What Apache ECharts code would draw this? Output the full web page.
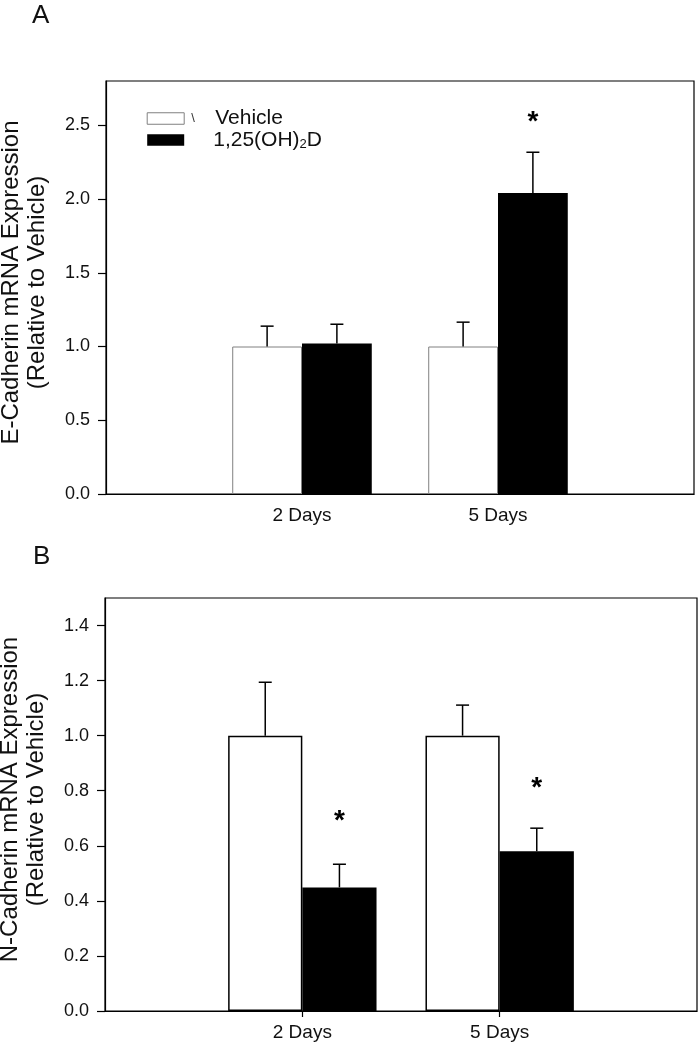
<!DOCTYPE html>
<html>
<head>
<meta charset="utf-8">
<script src="https://cdn.jsdelivr.net/npm/echarts@6/dist/echarts.min.js"></script>
<style>
html,body{margin:0;padding:0;background:#fff;}
#chart{width:699px;height:1050px;}
</style>
</head>
<body>
<div id="chart"></div>
<script>
// ---- Data ----
const categories = ['', '2 Days', '5 Days', ''];
const seriesNames = ['Vehicle', '1,25(OH)2D'];

// Panel A: E-Cadherin
const ecadVehicle      = ['-', 1.00, 1.00, '-'];
const ecadVehicleErr   = [null, 0.138, 0.165, null];
const ecadTreated      = ['-', 1.02, 2.04, '-'];
const ecadTreatedErr   = [null, 0.131, 0.277, null];
const ecadStarY        = [null, null, 2.556, null];
const ecadTicks        = { min: 0, max: 2.8, interval: 0.5 };

// Panel B: N-Cadherin
const ncadVehicle      = ['-', 1.00, 1.00, '-'];
const ncadVehicleErr   = [null, 0.194, 0.111, null];
const ncadTreated      = ['-', 0.449, 0.580, '-'];
const ncadTreatedErr   = [null, 0.084, 0.084, null];
const ncadStarY        = [null, 0.708, 0.827, null];
const ncadTicks        = { min: 0, max: 1.5, interval: 0.2 };

// ---- Helpers ----
const FONT = "'Liberation Sans', Arial, Helvetica, sans-serif";
const TXT = '#111';

function errData(vals, errs) {
  const out = [];
  vals.forEach((v, i) => { if (v !== '-' && errs[i] != null) out.push([i, v, errs[i]]); });
  return out;
}
function starData(ys) {
  const out = [];
  ys.forEach((y, i) => { if (y != null) out.push([i, y]); });
  return out;
}
function errSeries(gridIdx, data, side, ratio) {
  return {
    type: 'custom', xAxisIndex: gridIdx, yAxisIndex: gridIdx, z: 5, silent: true,
    data: data,
    renderItem: function (params, api) {
      const i = api.value(0), v = api.value(1), e = api.value(2);
      const band = api.coord([1, 0])[0] - api.coord([0, 0])[0];
      const p = api.coord([i, v]);
      const x = p[0] + side * band * ratio / 2;
      const yTop = api.coord([i, v + e])[1];
      const st = { stroke: '#000', lineWidth: 1.5 };
      return { type: 'group', children: [
        { type: 'line', shape: { x1: x, y1: p[1], x2: x, y2: yTop }, style: st },
        { type: 'line', shape: { x1: x - 6.5, y1: yTop, x2: x + 6.5, y2: yTop }, style: st }
      ]};
    }
  };
}
function starSeries(gridIdx, data, side, ratio) {
  return {
    type: 'custom', xAxisIndex: gridIdx, yAxisIndex: gridIdx, z: 6, silent: true,
    data: data,
    renderItem: function (params, api) {
      const i = api.value(0), y = api.value(1);
      const band = api.coord([1, 0])[0] - api.coord([0, 0])[0];
      const p = api.coord([i, y]);
      return { type: 'text', style: {
        text: '*', x: p[0] + side * band * ratio / 2, y: p[1] + 5,
        align: 'center', verticalAlign: 'middle',
        font: 'bold 28px ' + FONT, fill: '#000'
      }};
    }
  };
}
function yAxis(gridIdx, ticks, name) {
  return {
    type: 'value', gridIndex: gridIdx, min: ticks.min, max: ticks.max, interval: ticks.interval,
    name: name, nameLocation: 'middle', nameRotate: 90, nameGap: 56,
    nameTextStyle: { fontFamily: FONT, fontSize: 24, color: TXT, lineHeight: 25.5, align: 'center',
      padding: [0, 0, 0, 10] },
    axisLine: { show: true, lineStyle: { color: '#000', width: 1.2 } },
    axisTick: { show: true, inside: false, length: 8, lineStyle: { color: '#000', width: 1.2 } },
    axisLabel: { fontFamily: FONT, fontSize: 18, color: TXT, margin: 16, showMaxLabel: false,
      formatter: v => v.toFixed(1) },
    splitLine: { show: false }
  };
}
function xAxis(gridIdx, showTicks) {
  return {
    type: 'category', gridIndex: gridIdx, data: categories, boundaryGap: false,
    axisLine: { show: true, lineStyle: { color: '#000', width: 1.2 } },
    axisTick: { show: showTicks, length: 6, lineStyle: { color: '#000', width: 1.2 },
      interval: (idx) => idx === 1 || idx === 2 },
    axisLabel: { fontFamily: FONT, fontSize: 19, color: TXT, margin: 12, interval: 0 },
    splitLine: { show: false }
  };
}

const ratioA = 0.356, ratioB = 0.376;

const option = {
  animation: false,
  backgroundColor: '#fff',
  title: [
    { text: 'A', left: 32, top: 3, padding: 0, textStyle: { fontFamily: FONT, fontSize: 26, fontWeight: 'normal', color: TXT } },
    { text: 'B', left: 33, top: 544, padding: 0, textStyle: { fontFamily: FONT, fontSize: 26, fontWeight: 'normal', color: TXT } }
  ],
  legend: {
    orient: 'vertical', left: 146.7, top: 108, padding: 0, itemGap: 0,
    itemWidth: 37, itemHeight: 11.5, icon: 'rect',
    data: [
      { name: seriesNames[0], itemStyle: { color: '#fff', borderColor: '#808080', borderWidth: 1 } },
      { name: seriesNames[1], itemStyle: { color: '#000' } }
    ],
    formatter: function (name) {
      return name === seriesNames[0] ? '{bs|\\}{t|Vehicle}' : '{pad|}{t|1,25(OH)}{sub|2}{t|D}';
    },
    textStyle: {
      fontFamily: FONT, color: TXT,
      rich: {
        bs: { width: 24, fontSize: 13, lineHeight: 20, color: '#333', fontFamily: FONT, padding: [0, 0, 0, 2] },
        pad: { width: 24, lineHeight: 20 },
        t: { fontSize: 21, lineHeight: 20, color: TXT, fontFamily: FONT },
        sub: { fontSize: 13, lineHeight: 20, color: TXT, fontFamily: FONT, padding: [9, 0, 0, 0] }
      }
    },
    selectedMode: false
  },
  grid: [
    { left: 106, right: 5, top: 81, bottom: 556, containLabel: false, outerBoundsMode: 'none',
      show: true, borderColor: '#000', borderWidth: 1.2, backgroundColor: 'transparent' },
    { left: 105, right: 2, top: 598, bottom: 39, containLabel: false, outerBoundsMode: 'none',
      show: true, borderColor: '#000', borderWidth: 1.2, backgroundColor: 'transparent' }
  ],
  xAxis: [ xAxis(0, false), xAxis(1, true) ],
  yAxis: [
    yAxis(0, ecadTicks, 'E-Cadherin mRNA Expression\n(Relative to Vehicle)'),
    yAxis(1, ncadTicks, 'N-Cadherin mRNA Expression\n(Relative to Vehicle)')
  ],
  series: [
    { name: seriesNames[0], type: 'bar', xAxisIndex: 0, yAxisIndex: 0, data: ecadVehicle,
      barWidth: (ratioA * 100) + '%', barGap: '0%',
      itemStyle: { color: '#fff', borderColor: '#808080', borderWidth: 1 } },
    { name: seriesNames[1], type: 'bar', xAxisIndex: 0, yAxisIndex: 0, data: ecadTreated,
      barWidth: (ratioA * 100) + '%', barGap: '0%',
      itemStyle: { color: '#000' } },
    errSeries(0, errData(ecadVehicle, ecadVehicleErr), -1, ratioA),
    errSeries(0, errData(ecadTreated, ecadTreatedErr), 1, ratioA),
    starSeries(0, starData(ecadStarY), 1, ratioA),

    { name: seriesNames[0], type: 'bar', xAxisIndex: 1, yAxisIndex: 1, data: ncadVehicle,
      barWidth: (ratioB * 100) + '%', barGap: '0%',
      itemStyle: { color: '#fff', borderColor: '#000', borderWidth: 1.5 } },
    { name: seriesNames[1], type: 'bar', xAxisIndex: 1, yAxisIndex: 1, data: ncadTreated,
      barWidth: (ratioB * 100) + '%', barGap: '0%',
      itemStyle: { color: '#000' } },
    errSeries(1, errData(ncadVehicle, ncadVehicleErr), -1, ratioB),
    errSeries(1, errData(ncadTreated, ncadTreatedErr), 1, ratioB),
    starSeries(1, starData(ncadStarY), 1, ratioB)
  ]
};

const chart = echarts.init(document.getElementById('chart'), null, { renderer: 'canvas' });
chart.setOption(option);
</script>
</body>
</html>
